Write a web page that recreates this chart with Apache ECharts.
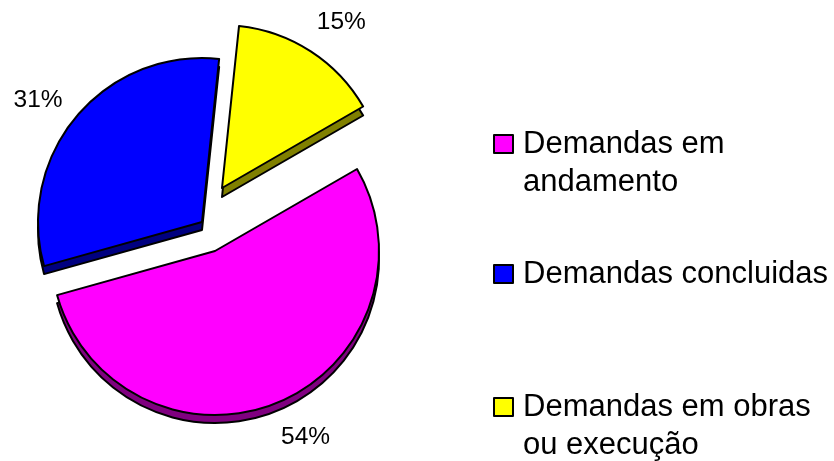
<!DOCTYPE html>
<html><head><meta charset="utf-8">
<style>html,body{margin:0;padding:0;background:#fff}#c{width:834px;height:461px}</style>
<script src="https://cdn.jsdelivr.net/npm/echarts@6/dist/echarts.min.js"></script>
</head><body><div id="c"></div>
<script>
const categories = ['Demandas em\nandamento', 'Demandas concluidas', 'Demandas em obras\nou execução'];
const values = [54, 31, 15];
const topColors = ['#FF00FF', '#0000FF', '#FFFF00'];
const sideColors = ['#800080', '#000080', '#808000'];
const centers = [[215, 251], [202, 222], [222, 188]];
const radii = [164, 164, 163];
const depths = [8, 8, 9];
const labelOffsets = [[10, -5], [-5, 13], [6, 9]];
const firstAngle = 30;
const legendTops = [87, 255, 350];
const font = 'Liberation Sans';
const total = values.reduce((a, b) => a + b, 0);
const series = [];
let acc = 0;
const blank = {color: 'rgba(0,0,0,0)', borderWidth: 0};
values.forEach((v, i) => {
  const startAngle = firstAngle - acc / total * 360;
  acc += v;
  const common = {type: 'pie', silent: true, animation: false, clockwise: true, startAngle, avoidLabelOverlap: false,
    labelLine: {show: false}, emphasis: {disabled: true}};
  series.push(Object.assign({}, common, {
    name: 'lateral' + i, center: [centers[i][0], centers[i][1] + depths[i]], radius: [0, radii[i]], label: {show: false},
    data: [{value: v, name: 'lateral ' + i, itemStyle: {color: sideColors[i], borderColor: '#000', borderWidth: 2}},
           {value: total - v, name: 'resto l' + i, itemStyle: blank}]
  }));
  series.push(Object.assign({}, common, {
    name: 'topo' + i, center: centers[i], radius: [0, radii[i]], label: {show: false},
    data: [{value: v, name: categories[i], itemStyle: {color: topColors[i], borderColor: '#000', borderWidth: 2}},
           {value: total - v, name: 'resto t' + i, itemStyle: blank}]
  }));
  series.push(Object.assign({}, common, {
    name: 'rotulo' + i, center: centers[i], radius: [200, 210],
    data: [{value: v, name: 'rotulo ' + i, itemStyle: blank,
            label: {show: true, position: 'inside', rotate: 0, offset: labelOffsets[i],
                    formatter: p => p.value + '%', color: '#000', fontFamily: font, fontSize: 24.5}},
           {value: total - v, name: 'resto r' + i, itemStyle: blank, label: {show: false}}]
  }));
});
const LH = 38;
const legend = categories.map((c, i) => ({
  data: [c], left: 493, top: legendTops[i], padding: 0, itemWidth: 19, itemHeight: 18, itemGap: 0,
  selectedMode: false, icon: 'rect', itemStyle: {borderColor: '#000', borderWidth: 2},
  formatter: name => {
    const lines = name.split('\n').map(t => '{a|' + t + '}');
    return (lines.length > 1 ? ['{a|\u00a0}'] : []).concat(lines).join('\n');
  },
  textStyle: {fontFamily: font, fontSize: 31, lineHeight: LH, color: '#000',
    rich: {a: {fontFamily: font, fontSize: 31, lineHeight: LH, color: '#000', padding: [0, 0, 0, 5]}}}
}));
const chart = echarts.init(document.getElementById('c'), null, {renderer: 'canvas'});
chart.setOption({backgroundColor: '#fff', animation: false, tooltip: {show: false}, legend, series});
</script></body></html>
